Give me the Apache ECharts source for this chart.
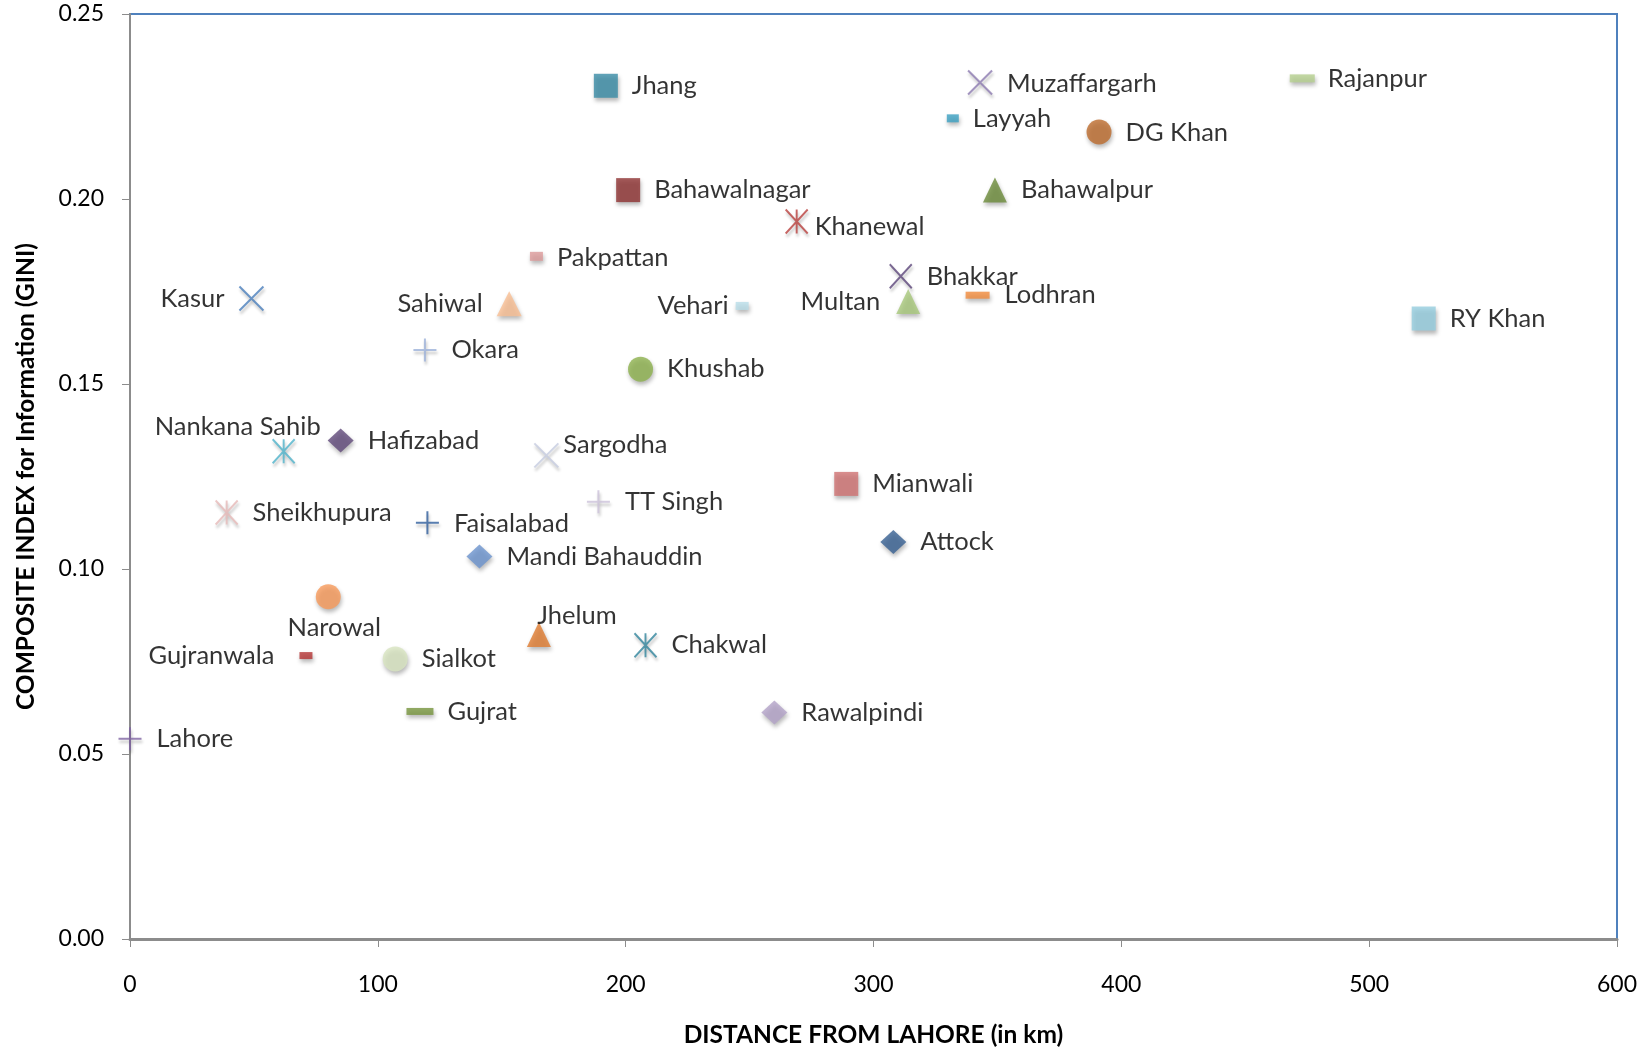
<!DOCTYPE html>
<html>
<head>
<meta charset="utf-8">
<script src="https://cdn.jsdelivr.net/npm/echarts@6/dist/echarts.min.js"></script>
<style>
  html, body { margin: 0; padding: 0; background: #fff; }
  #main { width: 1652px; height: 1054px; }
</style>
</head>
<body>
<div id="main"></div>
<script>
// district data
var districts = ['Jhang','Muzaffargarh','Rajanpur','Layyah','DG Khan','Bahawalnagar','Bahawalpur','Khanewal','Pakpattan','Kasur',
  'Sahiwal','Vehari','Bhakkar','Multan','Lodhran','RY Khan','Okara','Khushab','Nankana Sahib','Hafizabad',
  'Sargodha','TT Singh','Mianwali','Sheikhupura','Faisalabad','Attock','Mandi Bahauddin','Narowal','Jhelum','Chakwal',
  'Gujranwala','Sialkot','Gujrat','Rawalpindi','Lahore'];
var distanceKm = [192, 343, 473, 332, 391, 201, 349, 269, 164, 49,
  153, 247, 311, 314, 342, 522, 119, 206, 62, 85,
  168, 189, 289, 39, 120, 308, 141, 80, 165, 208,
  71, 107, 117, 260, 0];
var giniIndex = [0.2306, 0.2315, 0.2326, 0.2218, 0.2181, 0.2024, 0.2024, 0.1939, 0.1845, 0.1731,
  0.1717, 0.1711, 0.1791, 0.1723, 0.1740, 0.1677, 0.1592, 0.1540, 0.1318, 0.1347,
  0.1307, 0.1182, 0.1230, 0.1153, 0.1125, 0.1073, 0.1034, 0.0925, 0.0823, 0.0794,
  0.0766, 0.0757, 0.0615, 0.0612, 0.0541];
var xTicks = [0, 100, 200, 300, 400, 500, 600];
var yTicks = [0, 0.05, 0.10, 0.15, 0.20, 0.25];

// marker shapes
var shapes = {
  sq: 'rect',
  ci: 'circle',
  tri: 'triangle',
  dia: 'diamond',
  x: 'path://M0,0L20,20M20,0L0,20',
  plus: 'path://M10,0L10,20M0,10L20,10',
  star: 'path://M0,0L20,20M20,0L0,20M10,0L10,20'
};

// style per district: shape, colour, size, label [position, distance, dx, dy]
var markStyle = [
  ['sq', '#3A8CA6', [24, 24], ['right', 14, 0, 0]],
  ['x', '#8C7AB0', [24, 24], ['right', 14, 0, 1]],
  ['sq', '#B5D08F', [25, 8], ['right', 13, 0, 0]],
  ['sq', '#3BA0C2', [12, 8], ['right', 14, 0, 0]],
  ['ci', '#BD6B2D', [25, 25], ['right', 14, 0, 1]],
  ['sq', '#8E3232', [24, 24], ['right', 14, 0, 0]],
  ['tri', '#6C8B3A', [24, 25], ['right', 14, 0, 0]],
  ['star', '#B9403D', [22, 24], ['right', 6, 0, 5]],
  ['sq', '#DC9A9A', [13, 9], ['right', 14, 0, 1]],
  ['x', '#4A7EBB', [24, 24], ['left', 14, 0, 0]],
  ['tri', '#F9BE92', [25, 25], ['left', 14, 0, 0]],
  ['sq', '#B9DDE9', [13, 8], ['left', 7, 0, 0]],
  ['x', '#5B4579', [22, 24], ['right', 14, 0, 0]],
  ['tri', '#A7C87A', [24, 25], ['left', 16, 0, 0]],
  ['sq', '#F18B3C', [24, 7], ['right', 15, 0, 0]],
  ['sq', '#95CDDF', [24, 24], ['right', 14, 0, 0]],
  ['plus', '#9CB1D9', [23, 23], ['right', 14, 0, 0]],
  ['ci', '#8DB24E', [25, 25], ['right', 14, 0, 0]],
  ['star', '#4FB3CB', [22, 24], ['top', 0, -46, 1]],
  ['dia', '#604A7B', [26, 24], ['right', 14, 0, 0]],
  ['x', '#C6CCE0', [24, 24], ['right', 4, 0, -11]],
  ['plus', '#CCC2DA', [23, 23], ['right', 14, 0, 0]],
  ['sq', '#D07272', [24, 24], ['right', 14, 0, 0]],
  ['star', '#E6B9B8', [22, 24], ['right', 14, 0, 0]],
  ['plus', '#2F5E9C', [23, 23], ['right', 14, 0, 1]],
  ['dia', '#376092', [26, 24], ['right', 14, 0, 0]],
  ['dia', '#6C93CE', [26, 24], ['right', 14, 0, 0]],
  ['ci', '#F79A5A', [25, 25], ['bottom', 6, 6, 0]],
  ['tri', '#E07C2F', [24, 25], ['top', 0, 38, 7]],
  ['star', '#31859C', [22, 24], ['right', 14, 0, 0]],
  ['sq', '#B43434', [13, 7], ['left', 25, 0, 0]],
  ['ci', '#D8E5C0', [25, 25], ['right', 14, 0, 0]],
  ['sq', '#77953D', [27, 7], ['right', 14, 0, 0]],
  ['dia', '#B3A3C8', [26, 24], ['right', 14, 0, 0]],
  ['plus', '#8064A2', [23, 23], ['right', 14, 0, 0]]
];

var points = districts.map(function (name, i) {
  var st = markStyle[i];
  var isLine = st[0] === 'x' || st[0] === 'plus' || st[0] === 'star';
  return {
    name: name,
    value: [distanceKm[i], giniIndex[i]],
    symbol: shapes[st[0]],
    symbolSize: st[2],
    itemStyle: isLine ? {
      color: 'rgba(0,0,0,0)', borderColor: st[1], borderWidth: 2,
      shadowColor: 'rgba(0,0,0,0.3)', shadowBlur: 3, shadowOffsetX: 1, shadowOffsetY: 3
    } : {
      color: st[1],
      shadowColor: 'rgba(0,0,0,0.35)', shadowBlur: 4, shadowOffsetX: 1, shadowOffsetY: 3
    },
    label: {
      show: true,
      formatter: name,
      position: st[3][0],
      distance: st[3][1],
      offset: [st[3][2], st[3][3]]
    }
  };
});

var chart = echarts.init(document.getElementById('main'));
chart.setOption({
  animation: false,
  textStyle: { fontFamily: 'Lato' },
  grid: {
    left: 130, right: 35, top: 14, bottom: 115,
    show: true, borderColor: '#4F81BD', borderWidth: 2, backgroundColor: '#fff'
  },
  xAxis: {
    type: 'value', min: xTicks[0], max: xTicks[xTicks.length - 1], interval: 100,
    name: 'DISTANCE FROM LAHORE (in km)',
    nameLocation: 'middle', nameGap: 84,
    nameTextStyle: { fontFamily: 'Lato', fontWeight: 'bold', fontSize: 24.5, color: '#000' },
    axisLine: { show: true, lineStyle: { color: '#8C8C8C', width: 3 } },
    axisTick: { show: true, length: 8, lineStyle: { color: '#8C8C8C', width: 1 } },
    axisLabel: { margin: 34, fontSize: 23, color: '#000' },
    splitLine: { show: false }
  },
  yAxis: {
    type: 'value', min: yTicks[0], max: yTicks[yTicks.length - 1], interval: 0.05,
    name: 'COMPOSITE INDEX for Information (GINI)',
    nameLocation: 'middle', nameGap: 91,
    nameTextStyle: { fontFamily: 'Lato', fontWeight: 'bold', fontSize: 24.5, color: '#000' },
    axisLine: { show: true, lineStyle: { color: '#8C8C8C', width: 2 } },
    axisTick: { show: true, length: 8, lineStyle: { color: '#8C8C8C', width: 1 } },
    axisLabel: {
      margin: 26, fontSize: 23, color: '#000',
      formatter: function (v) { return v.toFixed(2); }
    },
    splitLine: { show: false }
  },
  series: [{
    type: 'scatter',
    data: points,
    label: { fontFamily: 'Lato', fontSize: 25.5, color: '#000' },
    emphasis: { disabled: true }
  }]
});
</script>
</body>
</html>
